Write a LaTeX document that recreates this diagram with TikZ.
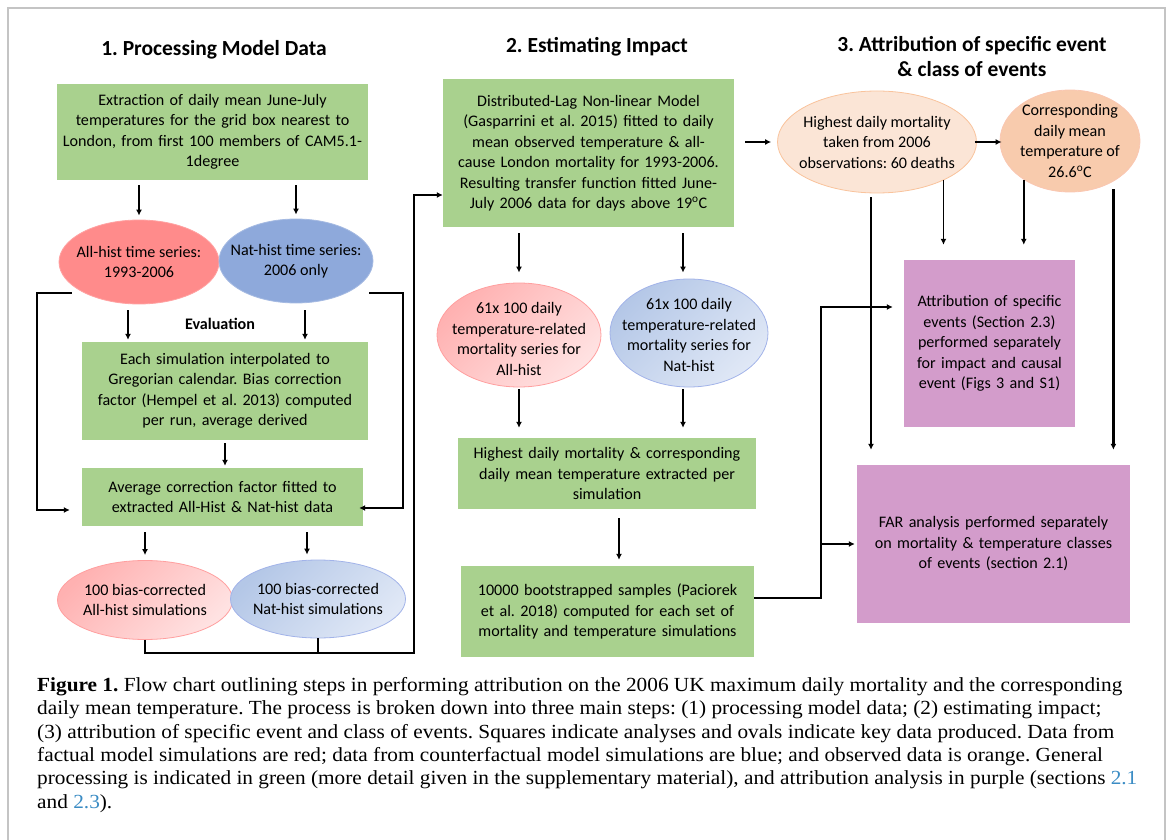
\documentclass[tikz,border=0pt]{standalone}
\usepackage{fontspec}
\setmainfont{Liberation Serif}
\newfontfamily\diagfont{Carlito}
\newfontfamily\capfont[FakeStretch=1.065]{Liberation Serif}
\usetikzlibrary{arrows.meta,shapes.geometric}
\definecolor{colorProcess}{HTML}{A9D18E}
\definecolor{colorAttrib}{HTML}{D39CCB}
\definecolor{colorAllHist}{HTML}{FF8B8B}
\definecolor{colorNatHist}{HTML}{8EA9DB}
\definecolor{colorAllDark}{HTML}{FFB1B1}
\definecolor{colorAllLight}{HTML}{FFE2E2}
\definecolor{colorNatDark}{HTML}{B4C7E7}
\definecolor{colorNatLight}{HTML}{E0E8F6}
\definecolor{colorObsMort}{HTML}{FBE5D6}
\definecolor{colorObsTemp}{HTML}{F8CBAD}
\definecolor{colorFrame}{HTML}{C4C4C4}
\definecolor{colorLink}{HTML}{3B8CC4}
\newcommand\diagText{\diagfont\fontsize{16.1}{20.5}\selectfont}
\newcommand\titleText{\diagfont\bfseries\fontsize{21.5}{25}\selectfont}
\newcommand\captionText{\capfont\fontsize{20}{23.4}\selectfont}
\frenchspacing

\begin{document}
\frenchspacing
\begin{tikzpicture}[x=1pt,y=-1pt,
	title/.style={align=center, inner sep=0pt, font=\titleText},
	process/.style={rectangle, inner sep=0pt, align=center, fill=colorProcess, font=\diagText},
	attribution/.style={rectangle, inner sep=0pt, align=center, fill=colorAttrib, font=\diagText},
	oval/.style={ellipse, inner sep=0pt, line width=0.8pt},
	ovaltext/.style={align=center, inner sep=0pt, font=\diagText},
	allsolid/.style={oval, fill=colorAllHist, draw=colorAllHist!80!white},
	natsolid/.style={oval, fill=colorNatHist, draw=colorNatHist!80!white},
	allgrad/.style={oval, top color=colorAllDark, bottom color=colorAllLight, shading angle=45, draw=colorAllDark!90!red},
	natgrad/.style={oval, top color=colorNatDark, bottom color=colorNatLight, shading angle=45, draw=colorNatDark!90!blue},
	arr/.style={line width=1.5pt, -{Latex[length=6pt,width=6pt]}},
	rail/.style={line width=2.2pt},
	railarr/.style={rail, -{Latex[length=6pt,width=6pt]}},
	]
	\useasboundingbox (0,0) rectangle (1171,840);
	\draw[colorFrame, line width=1.5pt] (8,8) rectangle (1165,870);

	% column titles
	\node[title] (titleA) at (214,50) {1. Processing Model Data};
	\node[title] (titleB) at (597,47) {2. Estimating Impact};
	\node[title] (titleC) at (972,56.5) {3. Attribution of specific event\\ \& class of events};

	% 1. processing model data
	\node[process, minimum width=311, minimum height=96, text width=309] (extract) at (212.5,132)
		{Extraction of daily mean June-July\\ temperatures for the grid box nearest to\\ London, from first 100 members of CAM5.1-\\ 1degree};
	\node[allsolid, minimum width=160, minimum height=84,
		label={[ovaltext]center:{All-hist time series:\\ 1993-2006}}] (allts) at (139,262) {};
	\node[natsolid, minimum width=154, minimum height=84,
		label={[ovaltext]center:{Nat-hist time series:\\ 2006 only}}] (natts) at (296,261) {};
	\node[font=\diagfont\bfseries\fontsize{16.1}{20}\selectfont, inner sep=0pt] (evalLabel) at (220,324) {Evaluation};
	\node[process, minimum width=286, minimum height=98, text width=280] (interp) at (225,391)
		{Each simulation interpolated to\\ Gregorian calendar. Bias correction\\ factor (Hempel et al. 2013) computed\\ per run, average derived};
	\node[process, minimum width=281, minimum height=58, text width=275] (avgcorr) at (222.5,497)
		{Average correction factor fitted to\\ extracted All-Hist \& Nat-hist data};
	\node[allgrad, minimum width=175, minimum height=79,
		label={[ovaltext]center:{100 bias-corrected\\ All-hist simulations}}] (allbc) at (145,600) {};
	\node[natgrad, minimum width=175, minimum height=78,
		label={[ovaltext]center:{100 bias-corrected\\ Nat-hist simulations}}] (natbc) at (318,599) {};

	% 2. estimating impact
	\node[process, minimum width=291, minimum height=148, text width=285] (dlnm) at (588.5,153)
		{Distributed-Lag Non-linear Model\\ (Gasparrini et al. 2015) fitted to daily\\ mean observed temperature \& all-\\ cause London mortality for 1993-2006.\\ Resulting transfer function fitted June-\\ July 2006 data for days above 19\textsuperscript{o}C};
	\node[allgrad, minimum width=164, minimum height=104,
		label={[ovaltext, yshift=-4pt]center:{61x 100 daily\\ temperature-related\\ mortality series for\\ All-hist}}] (allmort) at (519,335) {};
	\node[natgrad, minimum width=158, minimum height=108,
		label={[ovaltext, yshift=-2pt]center:{61x 100 daily\\ temperature-related\\ mortality series for\\ Nat-hist}}] (natmort) at (689,333) {};
	\node[process, minimum width=298, minimum height=71, text width=292] (highest) at (607,473.5)
		{Highest daily mortality \& corresponding\\ daily mean temperature extracted per\\ simulation};
	\node[process, minimum width=293, minimum height=91, text width=287] (boot) at (607.5,611.5)
		{10000 bootstrapped samples (Paciorek\\ et al. 2018) computed for each set of\\ mortality and temperature simulations};

	% 3. attribution
	\node[oval, fill=colorObsMort, draw=colorObsTemp!90!orange, minimum width=199, minimum height=102,
		label={[ovaltext]center:{Highest daily mortality\\ taken from 2006\\ observations: 60 deaths}}] (obsmort) at (877,142) {};
	\node[oval, fill=colorObsTemp, draw=colorObsTemp!70!pink, minimum width=140, minimum height=102,
		label={[ovaltext]center:{Corresponding\\ daily mean\\ temperature of\\ 26.6\textsuperscript{o}C}}] (obstemp) at (1070,141) {};
	\node[attribution, minimum width=171, minimum height=167, text width=165] (attrib) at (989.5,343.5)
		{Attribution of specific\\ events (Section 2.3)\\ performed separately\\ for impact and causal\\ event (Figs 3 and S1)\\[4pt]};
	\node[attribution, minimum width=273, minimum height=158, text width=267] (far) at (993.5,544)
		{FAR analysis performed separately\\ on mortality \& temperature classes\\ of events (section 2.1)};

	% rails
	\coordinate (railA) at (37,293);
	\coordinate (railB) at (403,293);
	\coordinate (railC) at (414,653);
	\coordinate (railD) at (821,598);

	% connectors, column 1
	\draw[arr, shorten <=5pt, shorten >=4pt] (extract.south -| allts.north) -- (allts.north);
	\draw[arr, shorten <=5pt, shorten >=4pt] (extract.south -| natts.north) -- (natts.north);
	\draw[arr, shorten <=6pt, shorten >=2pt] ([xshift=-11pt]allts.south) -- ([xshift=-11pt]allts.south |- interp.north);
	\draw[arr, shorten <=7pt, shorten >=2pt] ([xshift=9pt]natts.south) -- ([xshift=9pt]natts.south |- interp.north);
	\draw[arr, shorten <=3pt, shorten >=2pt] (interp.south) -- (interp.south |- avgcorr.north);
	\draw[arr, shorten <=6pt, shorten >=5pt] (avgcorr.south -| allbc.north) -- (allbc.north);
	\draw[arr, shorten <=6pt, shorten >=5pt] ([xshift=-11pt]natbc.north |- avgcorr.south) -- ([xshift=-11pt]natbc.north);
	\draw[railarr, shorten <=-13pt, shorten >=12pt] ([yshift=-31pt]allts.west) -| ([yshift=-13pt]avgcorr.west -| railA) -- ([yshift=-13pt]avgcorr.west);
	\draw[railarr, shorten <=-4pt, shorten >=-4pt] ([yshift=-32pt]natts.east) -| ([yshift=-11pt]avgcorr.east -| railB) -- ([yshift=-11pt]avgcorr.east);
	\draw[railarr] (allbc.south) |- (railC) |- ([yshift=-42pt]dlnm.west);
	\draw[rail] (natbc.south) -- (natbc.south |- railC);

	% connectors, column 2
	\draw[arr, shorten <=11pt, shorten >=6pt] (dlnm.east |- obsmort.west) -- (obsmort.west);
	\draw[arr, shorten <=6pt, shorten >=10pt] (dlnm.south -| allmort.north) -- (allmort.north);
	\draw[arr, shorten <=6pt, shorten >=6pt] ([xshift=-6pt]natmort.north |- dlnm.south) -- ([xshift=-6pt]natmort.north);
	\draw[arr, shorten <=2pt, shorten >=10pt] (allmort.south) -- (allmort.south |- highest.north);
	\draw[arr, shorten <=2pt, shorten >=10pt] ([xshift=-6pt]natmort.south) -- ([xshift=-6pt]natmort.south |- highest.north);
	\draw[arr, shorten <=9pt, shorten >=6pt] ([xshift=12pt]highest.south) -- ([xshift=12pt]highest.south |- boot.north);
	\draw[railarr, shorten >=11pt] ([yshift=13.5pt]boot.east) -| ([yshift=36.5pt]attrib.west -| railD) -- ([yshift=36.5pt]attrib.west);
	\draw[railarr, shorten >=2pt] (far.west -| railD) -- (far.west);

	% connectors, column 3
	\draw[arr, shorten <=-2pt, shorten >=-2pt] (obsmort.east) -- (obsmort.east -| obstemp.west);
	\draw[arr, shorten >=15pt] (obsmort.-30) -- (obsmort.-30 |- attrib.north);
	\draw[railarr, shorten <=4pt, shorten >=15pt] ([xshift=-6pt]obsmort.south) -- ([xshift=-6pt]obsmort.south |- far.north);
	\draw[arr, shorten >=15pt] (obstemp.220) -- (obstemp.220 |- attrib.north);
	\draw[railarr, shorten <=8pt, shorten >=15pt] (obstemp.-43) -- (obstemp.-43 |- far.north);

	% caption
	\node[anchor=north west, align=left, inner sep=0pt, font=\captionText] (caption) at (37,677)
		{\textbf{Figure 1.} Flow chart outlining steps in performing attribution on the 2006 UK maximum daily mortality and the corresponding\\
		daily mean temperature. The process is broken down into three main steps: (1) processing model data; (2) estimating impact;\\
		(3) attribution of specific event and class of events. Squares indicate analyses and ovals indicate key data produced. Data from\\
		factual model simulations are red; data from counterfactual model simulations are blue; and observed data is orange. General\\
		processing is indicated in green (more detail given in the supplementary material), and attribution analysis in purple (sections {\color{colorLink}2.1}\\
		and {\color{colorLink}2.3}).};
\end{tikzpicture}
\end{document}
